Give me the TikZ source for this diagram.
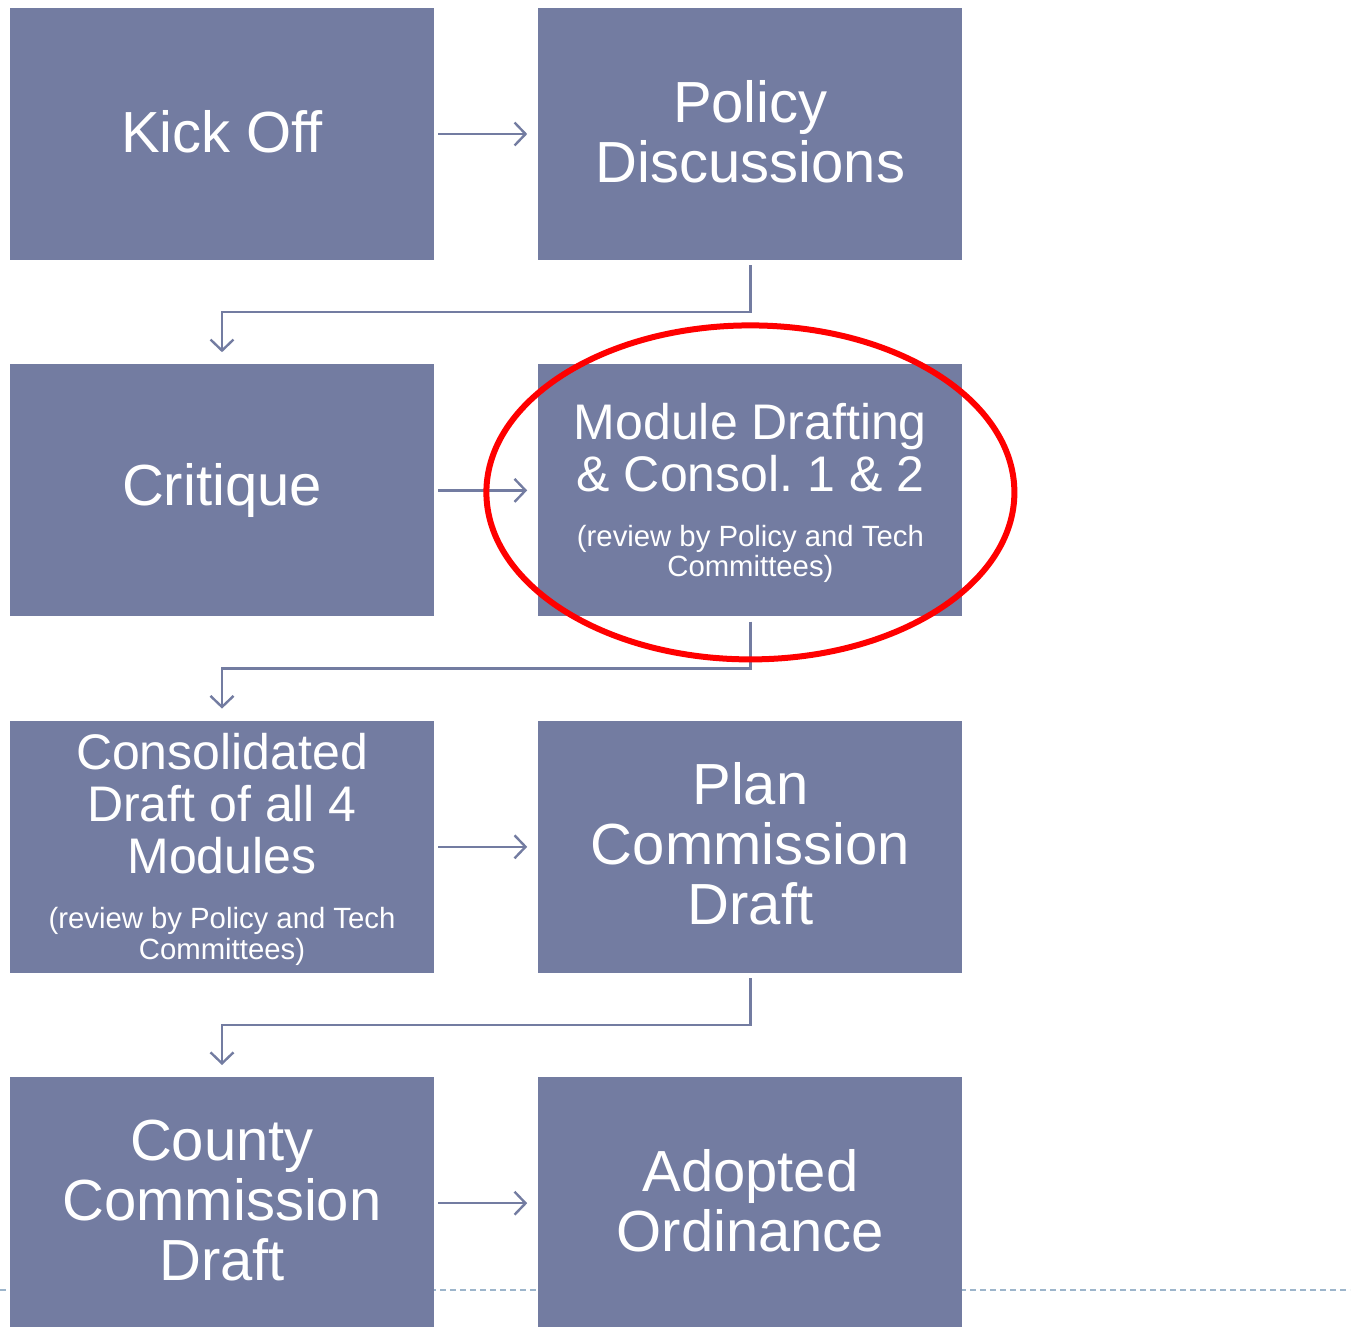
\documentclass[tikz,border=0pt]{standalone}
\usepackage{fontspec}
\setmainfont{Liberation Sans}
\usetikzlibrary{arrows.meta, positioning}

\definecolor{stepblue}{HTML}{737CA1}
\definecolor{rulegray}{HTML}{9DB5CB}

\newcommand{\reviewnote}{{\fontsize{29.3}{30}\selectfont\begin{tabular}[t]{@{}c@{}}(review by Policy and Tech\\Committees)\end{tabular}}}
\newcommand{\liftup}{\rule[-6pt]{0pt}{0pt}}
\newcommand{\pushdown}{\rule{0pt}{44.5pt}}

\begin{document}
\begin{tikzpicture}[
        node distance=104pt and 104pt,
        stepbox/.style={rectangle, fill=stepblue, text=white, inner sep=0pt, minimum width=424pt, minimum height=252pt, align=center, font=\fontsize{58}{60}\selectfont},
        midbox/.style={stepbox, font=\fontsize{50}{52}\selectfont},
        flow/.style={-{Straight Barb[length=11pt, width=23pt]}, line width=2.4pt, draw=stepblue, shorten <=4pt, shorten >=11pt},
        elbow/.style={flow, shorten <=5pt, shorten >=12pt},
        highlight/.style={draw=red, line width=6pt},
        footrule/.style={draw=rulegray, line width=2pt, dash pattern=on 6pt off 4pt}
    ]
        \useasboundingbox (0,0) rectangle (1363pt,-1326pt);

        % Footer rule
        \coordinate (rule_l) at (0pt,-1290pt);
        \coordinate (rule_r) at (1350pt,-1290pt);
        \draw[footrule] (rule_l) -- (rule_r);

        % Row 1
        \node[stepbox] (kick) at (222pt,-134pt) {Kick Off\liftup};
        \node[stepbox, right=of kick] (policy) {Policy\\Discussions\liftup};

        % Row 2
        \node[stepbox, below=of kick] (critique) {Critique};
        \node[midbox, right=of critique] (modul) {\pushdown Module Drafting\\\& Consol.\ 1 \& 2\\[3pt]\reviewnote};

        % Row 3
        \node[midbox, below=of critique] (consol) {\pushdown Consolidated\\Draft of all 4\\Modules\\[3pt]\reviewnote};
        \node[stepbox, right=of consol] (plan) {Plan\\Commission\\Draft\liftup};

        % Row 4
        \node[stepbox, below=of consol] (county) {County\\Commission\\Draft\liftup};
        \node[stepbox, right=of county] (adopted) {Adopted\\Ordinance\liftup};

        % Arrows
        \draw[flow] (kick) -- (policy);
        \draw[flow] (critique) -- (modul);
        \draw[flow] (consol) -- (plan);
        \draw[flow] (county) -- (adopted);
        \draw[elbow] (policy.south) -- ++(0,-52pt) -| (critique.north);
        \draw[elbow] (modul.south) -- ++(0,-52pt) -| (consol.north);
        \draw[elbow] (plan.south) -- ++(0,-52pt) -| (county.north);

        % Highlight
        \draw[highlight] ([yshift=-2pt]modul.center) ellipse [x radius=264pt, y radius=167pt];

    \end{tikzpicture}
\end{document}
